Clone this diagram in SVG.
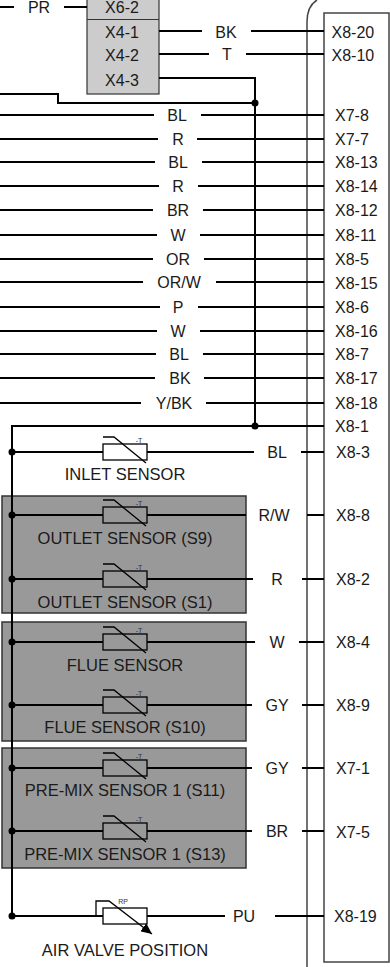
<svg xmlns="http://www.w3.org/2000/svg" width="390" height="967" viewBox="0 0 390 967">
<style>
text{font-family:"Liberation Sans",Arial,sans-serif;font-size:16px;fill:#1a1a1a;text-anchor:middle}
#terminal-labels text{text-anchor:start}
.l{font-size:16.500px}
.w{fill:none;stroke:#000;stroke-width:2}
.t{fill:none;stroke:#444;stroke-width:1.500}
.g{fill:#999;stroke:#333;stroke-width:1.500}
.r{fill:none;stroke:#000;stroke-width:1.300}
.s{font-size:7px;fill:#333}
</style>
<defs>
<g id="therm"><rect class="r" x="-22" y="-8" width="44" height="16"/><path class="r" d="M-22,-15H-11L21,11"/><text class="s" x="14" y="-9">-T</text></g>
<marker id="ah" markerUnits="userSpaceOnUse" markerWidth="13" markerHeight="10" refX="11" refY="5" orient="auto"><path d="M0,0L11,5L0,10Z" fill="#000"/></marker>
</defs>
<g id="module-outline"><path class="t" d="M307,967V22Q307,6 317,0"/></g>
<g id="terminal-strip"><rect x="324" y="13" width="65" height="949" fill="#fff" stroke="#444" stroke-width="1.500"/></g>
<g id="group-1"><rect class="g" x="2" y="496" width="244" height="117"/></g>
<g id="group-2"><rect class="g" x="2" y="622" width="244" height="119"/></g>
<g id="group-3"><rect class="g" x="2" y="748" width="244" height="120"/></g>
<g id="connector-block"><rect x="87" y="-2" width="72" height="96" fill="#ccc" stroke="#333" stroke-width="1.200"/><path d="M87,19.500H159" stroke="#333" stroke-width="1.200"/>
<text x="122" y="13">X6-2</text><text x="122" y="38">X4-1</text><text x="122" y="61">X4-2</text><text x="122" y="86">X4-3</text></g>
<g id="connectors" class="w">
<path d="M0,7H14M64,7H87"/>
<path d="M159,31H202M251,31H324"/>
<path d="M159,54H209M246,54H324"/>
<path d="M159,78H255V426"/>
<path d="M0,94H58V103H255"/>
<path d="M0,115H154M201,115H324"/>
<path d="M0,139H158M197,139H324"/>
<path d="M0,162H155M202,162H324"/>
<path d="M0,186H159M198,186H324"/>
<path d="M0,210H153M203,210H324"/>
<path d="M0,235H157M200,235H324"/>
<path d="M0,259H153M204,259H324"/>
<path d="M0,282H143M216,282H324"/>
<path d="M0,307H160M198,307H324"/>
<path d="M0,331H157M200,331H324"/>
<path d="M0,354H156M203,354H324"/>
<path d="M0,378H155M204,378H324"/>
<path d="M0,403H141M206,403H324"/>
<path d="M324,426H12V916"/>
<path d="M12,452H103M147,452H254M301,452H324"/>
<path d="M12,515H103M147,515H246M307,515H324"/>
<path d="M12,579H103M147,579H253M302,579H324"/>
<path d="M12,642H103M147,642H255M299,642H324"/>
<path d="M12,705H103M147,705H252M302,705H324"/>
<path d="M12,768H103M147,768H252M302,768H324"/>
<path d="M12,831H103M147,831H252M302,831H324"/>
<path d="M12,916H103M147,916H225M275,916H324"/>
<g fill="#000" stroke="none"><circle cx="255" cy="103" r="3.500"/><circle cx="255" cy="426" r="3.500"/><circle cx="12" cy="452" r="3.500"/><circle cx="12" cy="515" r="3.500"/><circle cx="12" cy="579" r="3.500"/><circle cx="12" cy="642" r="3.500"/><circle cx="12" cy="705" r="3.500"/><circle cx="12" cy="768" r="3.500"/><circle cx="12" cy="831" r="3.500"/><circle cx="12" cy="916" r="3.500"/></g>
</g>
<g id="wire-labels">
<text x="39" y="13">PR</text><text x="226" y="38">BK</text><text x="227" y="60">T</text>
<text x="177" y="121">BL</text><text x="178" y="145">R</text><text x="178" y="168">BL</text><text x="178" y="192">R</text><text x="178" y="216">BR</text><text x="178" y="241">W</text><text x="178" y="265">OR</text><text x="179" y="288">OR/W</text><text x="178" y="313">P</text><text x="178" y="337">W</text><text x="179" y="360">BL</text><text x="180" y="384">BK</text><text x="174" y="409">Y/BK</text>
<text x="277" y="458">BL</text><text x="274" y="521">R/W</text><text x="277" y="585">R</text><text x="277" y="648">W</text><text x="277" y="711">GY</text><text x="277" y="774">GY</text><text x="277" y="837">BR</text><text x="244" y="922">PU</text>
</g>
<g id="terminal-labels">
<text x="331.500" y="38">X8-20</text><text x="331.500" y="61">X8-10</text><text x="335" y="121">X7-8</text><text x="335" y="145">X7-7</text><text x="335" y="168">X8-13</text><text x="335" y="192">X8-14</text><text x="335" y="216">X8-12</text><text x="335" y="241">X8-11</text><text x="335" y="265">X8-5</text><text x="335" y="289">X8-15</text><text x="335" y="313">X8-6</text><text x="335" y="337">X8-16</text><text x="335" y="360">X8-7</text><text x="335" y="384">X8-17</text><text x="335" y="409">X8-18</text><text x="335" y="432">X8-1</text><text x="336" y="458">X8-3</text><text x="336" y="521">X8-8</text><text x="336" y="585">X8-2</text><text x="336" y="648">X8-4</text><text x="336" y="711">X8-9</text><text x="336" y="774">X7-1</text><text x="336" y="838">X7-5</text><text x="334" y="922">X8-19</text>
</g>
<g id="inlet-sensor"><use href="#therm" x="125" y="452"/><text class="l" x="125" y="480">INLET SENSOR</text></g>
<g id="outlet-s9"><use href="#therm" x="125" y="515"/><text class="l" x="125" y="544">OUTLET SENSOR (S9)</text></g>
<g id="outlet-s1"><use href="#therm" x="125" y="579"/><text class="l" x="125" y="608">OUTLET SENSOR (S1)</text></g>
<g id="flue"><use href="#therm" x="125" y="642"/><text class="l" x="125" y="671">FLUE SENSOR</text></g>
<g id="flue-s10"><use href="#therm" x="125" y="705"/><text class="l" x="125" y="733">FLUE SENSOR (S10)</text></g>
<g id="premix-s11"><use href="#therm" x="125" y="768"/><text class="l" x="125" y="796">PRE-MIX SENSOR 1 (S11)</text></g>
<g id="premix-s13"><use href="#therm" x="125" y="831"/><text class="l" x="125" y="860">PRE-MIX SENSOR 1 (S13)</text></g>
<g id="air-valve"><rect class="r" x="103" y="908" width="44" height="16"/><path class="r" d="M96,916V901H109L152,934" marker-end="url(#ah)"/><text class="s" x="123" y="904">RP</text><text class="l" x="125" y="956">AIR VALVE POSITION</text></g>
</svg>
